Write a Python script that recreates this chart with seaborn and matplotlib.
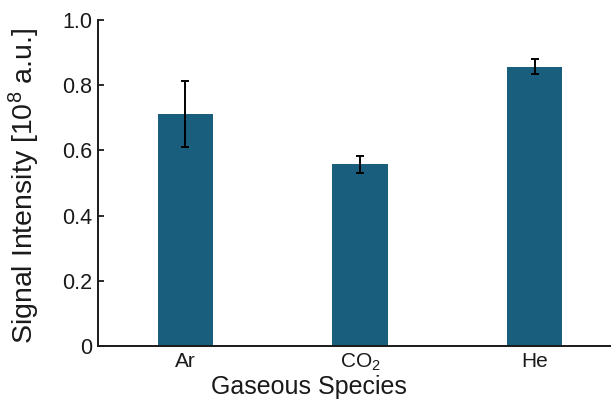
import matplotlib
matplotlib.use("Agg")
import matplotlib.pyplot as plt
import seaborn as sns
import pandas as pd

species = ["Ar", "CO$_2$", "He"]
signal = [0.712, 0.558, 0.857]
err = [0.102, 0.026, 0.022]
yticks = [0, 0.2, 0.4, 0.6, 0.8, 1.0]
ytick_labels = ["0", "0.2", "0.4", "0.6", "0.8", "1.0"]

sns.set_theme(style="ticks")
plt.rcParams["font.family"] = ["Liberation Sans", "DejaVu Sans"]
plt.rcParams["mathtext.fontset"] = "custom"
plt.rcParams["mathtext.rm"] = "Liberation Sans"
plt.rcParams["mathtext.it"] = "Liberation Sans"

df = pd.DataFrame({"species": species, "signal": signal})

fig = plt.figure(figsize=(6.11, 4.0), dpi=100)
ax = fig.add_axes([98 / 611, 54 / 400, (622 - 98) / 611, (346 - 20) / 400])

sns.barplot(data=df, x="species", y="signal", color="#1a5e7e", saturation=1,
            width=0.315, errorbar=None, ax=ax, edgecolor="none")
ax.errorbar(range(len(species)), signal, yerr=err, fmt="none", ecolor="black",
            elinewidth=1.4, capsize=3, capthick=1.4)

ax.set_xlim(-0.5, 2.5)
ax.set_ylim(0, 1.0)
ax.set_yticks(yticks)
ax.set_yticklabels(ytick_labels)
ax.tick_params(axis="y", direction="in", length=4, width=1.3, labelsize=15.5,
               pad=4, colors="#1a1a1a")
ax.tick_params(axis="x", length=0, labelsize=15, pad=4, colors="#1a1a1a")
for s in ["top", "right"]:
    ax.spines[s].set_visible(False)
for s in ["left", "bottom"]:
    ax.spines[s].set_linewidth(1.4)
    ax.spines[s].set_color("#1a1a1a")

ax.set_xlabel("Gaseous Species", fontsize=18, color="#1a1a1a")
ax.xaxis.set_label_coords((309 - 98) / 524, -0.088)
ax.set_ylabel(r"Signal Intensity [10$^8$ a.u.]", fontsize=20.5, color="#1a1a1a")
ax.yaxis.set_label_coords(-(98 - 42) / 524, (346 - 186) / 326)

fig.savefig("out.png", dpi=100)
